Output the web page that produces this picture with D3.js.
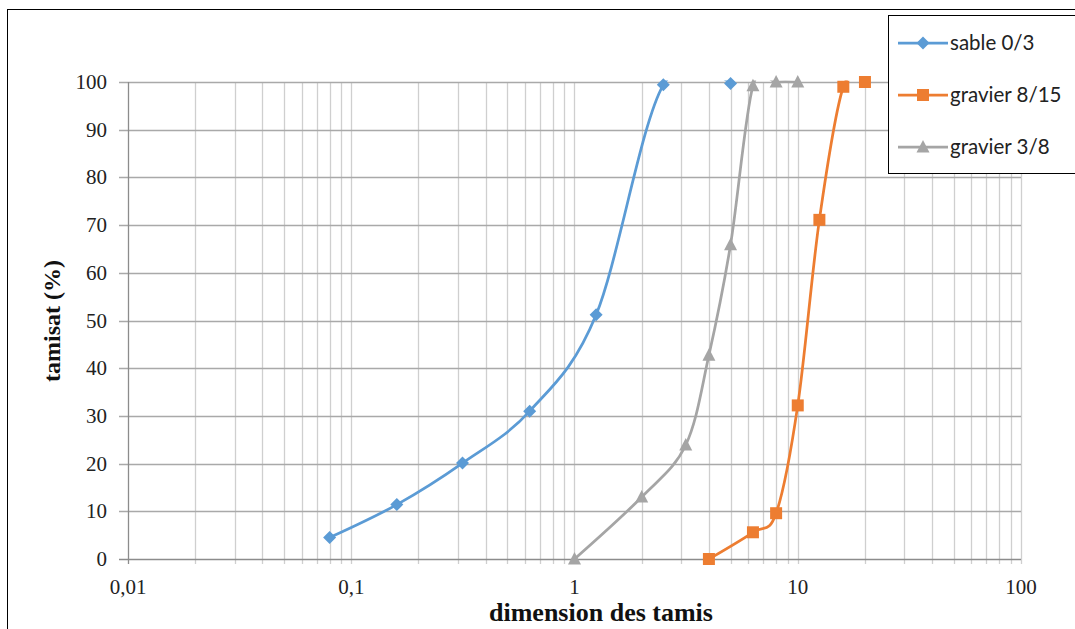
<!DOCTYPE html>
<html>
<head>
<meta charset="utf-8">
<script src="https://cdn.jsdelivr.net/npm/d3@7"></script>
<style>
  html, body { margin: 0; padding: 0; background: #fff; }
  svg { display: block; }
</style>
</head>
<body>
<svg id="chart" width="1075" height="629"></svg>
<script>
// Sieve sizes (mm) and passing percentages for each aggregate
const sableSizes = [0.08, 0.16, 0.315, 0.63, 1.25, 2.5, 5];
const sablePassing = [4.5, 11.4, 20.1, 31.0, 51.2, 99.4, 99.7];

const gravier815Sizes = [4, 6.3, 8, 10, 12.5, 16, 20];
const gravier815Passing = [0, 5.6, 9.6, 32.2, 71.1, 99.0, 100];

const gravier38Sizes = [1, 2, 3.15, 4, 5, 6.3, 8, 10];
const gravier38Passing = [0, 13.0, 23.9, 42.7, 65.9, 99.2, 100, 100];

const seriesNames = ["sable 0/3", "gravier 8/15", "gravier 3/8"];
const xTickValues = [0.01, 0.1, 1, 10, 100];
const xTickLabels = ["0,01", "0,1", "1", "10", "100"];
const yTickValues = [0, 10, 20, 30, 40, 50, 60, 70, 80, 90, 100];

const xTitle = "dimension des tamis";
const yTitle = "tamisat (%)";

const series = [
  { name: seriesNames[0], sizes: sableSizes, values: sablePassing, color: "#5b9bd5", marker: "diamond" },
  { name: seriesNames[1], sizes: gravier815Sizes, values: gravier815Passing, color: "#ed7d31", marker: "square" },
  { name: seriesNames[2], sizes: gravier38Sizes, values: gravier38Passing, color: "#a5a5a5", marker: "triangle" }
];

const svg = d3.select("#chart");
const W = 1075, H = 629;
const plot = { left: 128, right: 1021, top: 82, bottom: 559 };

svg.append("rect").attr("width", W).attr("height", H).attr("fill", "#fff");
// outer chart frame
svg.append("rect")
  .attr("x", 7.5).attr("y", 9.5)
  .attr("width", 1100).attr("height", 700)
  .attr("fill", "none").attr("stroke", "#000").attr("stroke-width", 1);

const x = d3.scaleLog().domain([0.01, 100]).range([plot.left, plot.right]);
const y = d3.scaleLinear().domain([0, 100]).range([plot.bottom, plot.top]);

// vertical grid: every 1..9 x 10^k
const minorX = [];
for (let k = -2; k <= 1; k++) {
  for (let i = 1; i <= 9; i++) minorX.push(i * Math.pow(10, k));
}
minorX.push(100);

const grid = svg.append("g");
grid.selectAll("line.v").data(minorX.filter(v => v > 0.01)).enter()
  .append("line")
  .attr("x1", d => Math.round(x(d)) + 0.5).attr("x2", d => Math.round(x(d)) + 0.5)
  .attr("y1", plot.top).attr("y2", plot.bottom + 5)
  .attr("stroke", "#cfcfcf").attr("stroke-width", 1.3);

grid.selectAll("line.h").data(yTickValues.filter(v => v > 0)).enter()
  .append("line")
  .attr("x1", plot.left - 9).attr("x2", plot.right)
  .attr("y1", d => Math.round(y(d)) + 0.5).attr("y2", d => Math.round(y(d)) + 0.5)
  .attr("stroke", "#a9a9a9").attr("stroke-width", 1.3);

// axis lines
svg.append("line")
  .attr("x1", plot.left + 0.5).attr("x2", plot.left + 0.5)
  .attr("y1", plot.top).attr("y2", plot.bottom + 5)
  .attr("stroke", "#8c8c8c").attr("stroke-width", 1.3);
svg.append("line")
  .attr("x1", plot.left - 9).attr("x2", plot.right)
  .attr("y1", plot.bottom + 0.5).attr("y2", plot.bottom + 0.5)
  .attr("stroke", "#8c8c8c").attr("stroke-width", 1.3);

// y tick labels
svg.append("g").selectAll("text").data(yTickValues).enter()
  .append("text")
  .attr("x", 107).attr("y", d => y(d) + 7)
  .attr("text-anchor", "end")
  .attr("font-family", "Liberation Serif, serif").attr("font-size", 21)
  .attr("fill", "#222")
  .text(d => d);

// x tick labels
svg.append("g").selectAll("text").data(xTickValues).enter()
  .append("text")
  .attr("x", d => x(d)).attr("y", 594)
  .attr("text-anchor", "middle")
  .attr("font-family", "Liberation Serif, serif").attr("font-size", 21)
  .attr("fill", "#222")
  .text((d, i) => xTickLabels[i]);

// axis titles
svg.append("text")
  .attr("x", 601).attr("y", 621)
  .attr("text-anchor", "middle")
  .attr("font-family", "Liberation Serif, serif").attr("font-size", 26).attr("font-weight", "bold")
  .attr("fill", "#111")
  .text(xTitle);
svg.append("text")
  .attr("transform", "translate(60,321) rotate(-90)")
  .attr("text-anchor", "middle")
  .attr("font-family", "Liberation Serif, serif").attr("font-size", 24).attr("font-weight", "bold")
  .attr("fill", "#111")
  .text(yTitle);

// clip lines to the plot area
svg.append("clipPath").attr("id", "plotClip")
  .append("rect")
  .attr("x", plot.left).attr("y", plot.top - 1.5)
  .attr("width", plot.right - plot.left).attr("height", plot.bottom - plot.top + 1.5);

const line = d3.line()
  .x(d => x(d[0])).y(d => y(d[1]))
  .curve(d3.curveCatmullRom.alpha(0));

function markerPath(type) {
  if (type === "diamond") return "M0,-6.5L6.5,0L0,6.5L-6.5,0Z";
  if (type === "square") return "M-6,-6H6V6H-6Z";
  return "M0,-7L6.5,5.5H-6.5Z";
}

const gLines = svg.append("g").attr("clip-path", "url(#plotClip)");
series.forEach(s => {
  const pts = s.sizes.map((v, i) => [v, s.values[i]]);
  gLines.append("path")
    .attr("d", line(pts))
    .attr("fill", "none")
    .attr("stroke", s.color)
    .attr("stroke-width", 2.75)
    .attr("stroke-linejoin", "round");
});
series.forEach(s => {
  const pts = s.sizes.map((v, i) => [v, s.values[i]]);
  svg.append("g").selectAll("path").data(pts).enter()
    .append("path")
    .attr("transform", d => `translate(${x(d[0])},${y(d[1])})`)
    .attr("d", markerPath(s.marker))
    .attr("fill", s.color);
});

// legend
const legend = svg.append("g");
legend.append("rect")
  .attr("x", 888.5).attr("y", 15.5)
  .attr("width", 300).attr("height", 158)
  .attr("fill", "#fff").attr("stroke", "#000").attr("stroke-width", 1);
const legendY = [43, 95, 147];
series.forEach((s, i) => {
  const ly = legendY[i];
  legend.append("line")
    .attr("x1", 898).attr("x2", 948).attr("y1", ly).attr("y2", ly)
    .attr("stroke", s.color).attr("stroke-width", 2.75);
  legend.append("path")
    .attr("transform", `translate(923,${ly})`)
    .attr("d", markerPath(s.marker))
    .attr("fill", s.color);
  legend.append("text")
    .attr("x", 950).attr("y", ly + 7)
    .attr("font-family", "Lato, sans-serif").attr("font-size", 20.5)
    .attr("fill", "#222")
    .text(s.name);
});
</script>
</body>
</html>
